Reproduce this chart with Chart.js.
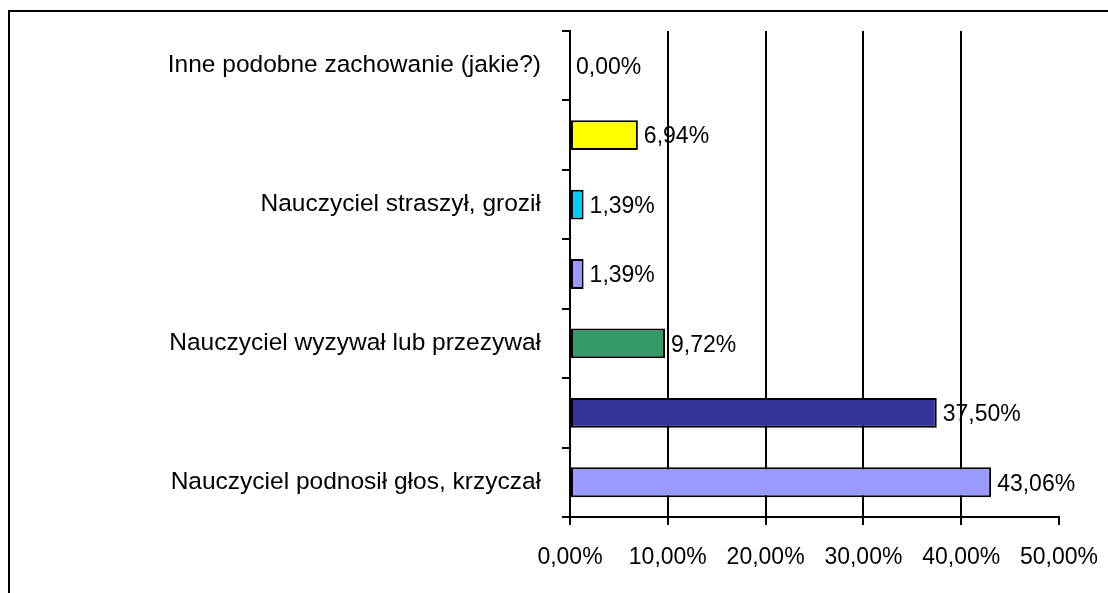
<!DOCTYPE html>
<html>
<head>
<meta charset="utf-8">
<script src="https://cdn.jsdelivr.net/npm/chart.js@4.4.0/dist/chart.umd.min.js"></script>
<style>
  html, body { margin: 0; padding: 0; background: #fff; }
  #wrap { position: relative; width: 1108px; height: 593px; overflow: hidden; }
  #frame { position: absolute; left: 8px; top: 10px; width: 1200px; height: 700px;
           border-left: 2px solid #000; border-top: 2px solid #000; }
  #chart { position: absolute; left: 0; top: 0; }
</style>
</head>
<body>
<div id="wrap">
  <div id="frame"></div>
  <canvas id="chart" width="1108" height="593"></canvas>
</div>
<script>
// dane (kolejność od góry)
const categories = [
  'Inne podobne zachowanie (jakie?)',
  '',
  'Nauczyciel straszył, groził',
  '',
  'Nauczyciel wyzywał lub przezywał',
  '',
  'Nauczyciel podnosił głos, krzyczał'
];
const values = [0.00, 6.94, 1.39, 1.39, 9.72, 37.50, 43.06];
const barColors = ['#FFFFFF', '#FFFF00', '#00CCFF', '#9999FF', '#339966', '#333399', '#9999FF'];
const xTicks = [0, 10, 20, 30, 40, 50];

const fmt = v => v.toFixed(2).replace('.', ',') + '%';
const FAMILY = 'Liberation Sans, Arial, sans-serif';
const NUM_FONT = { family: FAMILY, size: 23 };
const CAT_FONT = { family: FAMILY, size: 24.5 };

const valueLabels = {
  id: 'valueLabels',
  afterDatasetsDraw(chart) {
    const ctx = chart.ctx;
    const meta = chart.getDatasetMeta(0);
    ctx.save();
    ctx.font = NUM_FONT.size + 'px ' + FAMILY;
    ctx.fillStyle = '#000';
    ctx.textAlign = 'left';
    ctx.textBaseline = 'middle';
    meta.data.forEach((bar, i) => {
      ctx.fillText(fmt(values[i]), bar.x + 6, bar.y + 2);
    });
    ctx.restore();
  }
};

new Chart(document.getElementById('chart'), {
  type: 'bar',
  data: {
    labels: categories,
    datasets: [{
      data: values,
      backgroundColor: barColors,
      borderColor: '#000',
      borderWidth: 2,
      borderSkipped: false,
      categoryPercentage: 1,
      barPercentage: 0.43
    }]
  },
  options: {
    indexAxis: 'y',
    responsive: false,
    animation: false,
    layout: { padding: { top: 31, right: 49, left: 0, bottom: 0 } },
    plugins: { legend: { display: false }, tooltip: { enabled: false } },
    scales: {
      x: {
        min: 0,
        max: 50,
        afterBuildTicks: s => { s.ticks = xTicks.map(v => ({ value: v })); },
        afterFit: s => { s.height = 593 - 517; s.paddingLeft = 0; s.paddingRight = 0; },
        border: { color: '#000', width: 2 },
        grid: {
          color: c => (c.tick && c.tick.value === 50) ? 'rgba(0,0,0,0)' : '#000',
          tickColor: '#000',
          lineWidth: 2,
          tickLength: 8
        },
        ticks: {
          color: '#000',
          font: NUM_FONT,
          padding: 19,
          maxRotation: 0,
          autoSkip: false,
          callback: v => fmt(v)
        }
      },
      y: {
        afterFit: s => { s.width = 570; s.paddingTop = 0; s.paddingBottom = 0; },
        border: { color: '#000', width: 2 },
        grid: {
          drawOnChartArea: false,
          color: '#000',
          lineWidth: 2,
          tickLength: 8
        },
        ticks: {
          color: '#000',
          font: CAT_FONT,
          padding: 21,
          autoSkip: false
        }
      }
    }
  },
  plugins: [valueLabels]
});
</script>
</body>
</html>
